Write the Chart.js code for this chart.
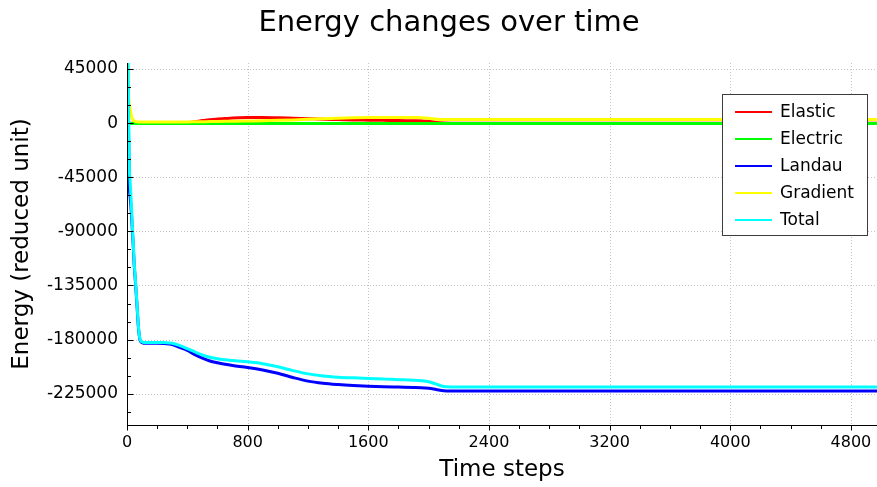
<!DOCTYPE html>
<html><head><meta charset="utf-8">
<script src="https://cdn.jsdelivr.net/npm/chart.js@4/dist/chart.umd.min.js"></script>
<style>html,body{margin:0;padding:0;background:#fff;overflow:hidden}#wrap{width:877px;height:487px;position:relative}</style>
</head><body><div id="wrap"><canvas id="c" width="877" height="487"></canvas></div>
<script>
const chartTitle = 'Energy changes over time';
const xTitle = 'Time steps';
const yTitle = 'Energy (reduced unit)';
const seriesNames = ['Elastic', 'Electric', 'Landau', 'Gradient', 'Total'];
const seriesColors = ['#ff0000', '#00ff00', '#0000ff', '#ffff00', '#00ffff'];
const xTickValues = [0, 800, 1600, 2400, 3200, 4000, 4800];
const yTickValues = [45000, 0, -45000, -90000, -135000, -180000, -225000];
const xMinorStep = 200;
const yMinorStep = 15000;

const timeSteps = [0, 5, 10, 15, 20, 25, 30, 36, 42, 47, 55, 62, 68, 73, 78, 84, 90, 98, 106, 116,
  126, 150, 200, 250, 300, 350, 400, 450, 500, 550, 600, 650, 700, 800, 900, 1000, 1100, 1200, 1300, 1400,
  1500, 1600, 1700, 1800, 1900, 1950, 2000, 2050, 2100, 2150, 2200, 2400, 2800, 3200, 3600, 4000, 4400, 4800, 5000];

const elastic = [0, 0, 0, 0, 0, 0, 0, 0, 0, 0, 0, 0, 0, 0, 0, 0, 0, 0, 0, 0,
  100, 100, 100, 100, 150, 200, 400, 1200, 2100, 2900, 3400, 3800, 4200, 4600, 4700, 4500, 4100, 3700, 3300, 3000,
  2700, 2500, 2300, 2100, 2000, 1900, 1600, 600, 100, 0, 0, 0, 0, 0, 0, 0, 0, 0, 0];

const electric = [-300, -300, -300, -300, -300, -300, -300, -300, -300, -300, -300, -300, -300, -300, -300, -300, -300, -300, -300, -300,
  -300, -300, -300, -300, -300, -300, -300, -300, -300, -300, -300, -300, -300, -300, -300, -300, -300, -300, -300, -300,
  -300, -300, -300, -300, -300, -300, -300, -300, -300, -300, -300, -300, -300, -300, -300, -300, -300, -300, -300];

const landau = [20000, 10000, -5000, -51000, -60000, -67600, -76500, -90000, -103500, -116300, -130500, -143200, -155000, -165200, -172800, -179000, -181500, -182400, -182800, -183000,
  -183100, -183100, -183100, -183300, -184000, -186500, -189000, -192500, -195400, -197800, -199300, -200500, -201500, -203200, -205300, -208000, -211500, -214500, -216300, -217400,
  -218200, -218800, -219200, -219500, -219800, -220000, -220500, -221500, -222500, -222700, -222700, -222700, -222700, -222700, -222700, -222700, -222700, -222700, -222700];

const gradient = [130000, 70000, 25000, 16000, 13000, 9000, 5500, 3500, 2500, 2000, 1500, 1200, 1100, 1000, 1000, 1000, 1000, 1000, 1000, 1000,
  1000, 1000, 1000, 1000, 1000, 1000, 1000, 1100, 1200, 1300, 1400, 1500, 1600, 1800, 2000, 2300, 2700, 3200, 3700, 4100,
  4400, 4600, 4700, 4700, 4600, 4500, 4100, 3300, 3000, 3000, 3000, 3000, 3000, 3000, 3000, 3000, 3000, 3000, 3000];

const total = [150000, 80000, 20000, -35000, -47000, -58600, -71000, -86500, -101000, -114300, -129000, -142000, -154000, -164300, -172000, -178200, -180800, -181800, -182200, -182400,
  -182400, -182400, -182400, -182500, -183000, -185000, -187500, -190200, -192800, -194700, -196000, -196800, -197400, -198500, -200000, -202600, -205800, -208500, -210200, -211200,
  -211800, -212300, -212800, -213300, -213800, -214200, -215000, -217000, -219000, -219300, -219300, -219300, -219300, -219300, -219300, -219300, -219300, -219300, -219300];

const seriesValues = [elastic, electric, landau, gradient, total];

const FONT = 'DejaVu Sans';

const datasets = seriesNames.map((name, i) => ({
  label: name,
  data: timeSteps.map((t, j) => ({ x: t, y: seriesValues[i][j] })),
  borderColor: seriesColors[i],
  backgroundColor: seriesColors[i],
  borderWidth: 3,
  pointRadius: 0,
  fill: false,
  cubicInterpolationMode: 'monotone',
  order: seriesNames.length - 1 - i
}));

const decorPlugin = {
  id: 'decor',
  beforeDatasetsDraw(chart) {
    const { ctx, chartArea: a, scales: { x, y } } = chart;
    ctx.save();
    ctx.strokeStyle = '#c4c4c4';
    ctx.lineWidth = 1;
    ctx.setLineDash([1, 2]);
    yTickValues.forEach(v => {
      const py = Math.round(y.getPixelForValue(v)) + 0.5;
      ctx.beginPath(); ctx.moveTo(a.left, py); ctx.lineTo(a.right, py); ctx.stroke();
    });
    xTickValues.forEach(v => {
      if (v === 0) return;
      const px = Math.round(x.getPixelForValue(v)) + 0.5;
      ctx.beginPath(); ctx.moveTo(px, a.top); ctx.lineTo(px, a.bottom); ctx.stroke();
    });
    ctx.restore();
  },
  afterDatasetsDraw(chart) {
    const { ctx, chartArea: a, scales: { x, y } } = chart;
    ctx.save();
    ctx.strokeStyle = '#000';
    ctx.lineWidth = 1;
    ctx.setLineDash([]);
    const ax = Math.round(a.left) + 0.5;
    const ay = Math.round(a.bottom) + 0.5;
    ctx.beginPath(); ctx.moveTo(ax, a.top); ctx.lineTo(ax, a.bottom + 1); ctx.stroke();
    ctx.beginPath(); ctx.moveTo(a.left, ay); ctx.lineTo(a.right, ay); ctx.stroke();
    for (let v = 45000; v >= y.min; v -= yMinorStep) {
      const py = Math.round(y.getPixelForValue(v)) + 0.5;
      const major = yTickValues.includes(v);
      ctx.beginPath(); ctx.moveTo(ax, py); ctx.lineTo(ax + (major ? 6 : 3.5), py); ctx.stroke();
    }
    for (let v = 0; v <= x.max; v += xMinorStep) {
      const px = Math.round(x.getPixelForValue(v)) + 0.5;
      const major = xTickValues.includes(v);
      ctx.beginPath(); ctx.moveTo(px, ay); ctx.lineTo(px, ay + (major ? 5 : 3.5)); ctx.stroke();
    }
    ctx.restore();

    ctx.save();
    const lx = 722.5, ly = 94.5, lw = 145, lh = 141;
    ctx.fillStyle = '#fff';
    ctx.fillRect(lx, ly, lw, lh);
    ctx.strokeStyle = '#3c3c3c';
    ctx.lineWidth = 1;
    ctx.strokeRect(lx, ly, lw, lh);
    ctx.font = '17px "' + FONT + '"';
    ctx.textBaseline = 'middle';
    ctx.textAlign = 'left';
    chart.data.datasets.forEach((ds, i) => {
      const ey = 112 + i * 27;
      ctx.strokeStyle = ds.borderColor;
      ctx.lineWidth = 2;
      ctx.beginPath(); ctx.moveTo(735, ey); ctx.lineTo(772, ey); ctx.stroke();
      ctx.fillStyle = '#000';
      ctx.fillText(ds.label, 780, ey + 1);
    });
    ctx.restore();
  },
  afterDraw(chart) {
    const { ctx } = chart;
    ctx.save();
    ctx.fillStyle = '#000';
    ctx.font = '29px "' + FONT + '"';
    ctx.textAlign = 'center';
    ctx.textBaseline = 'middle';
    ctx.fillText(chartTitle, 449, 23);
    ctx.restore();
  }
};

new Chart(document.getElementById('c'), {
  type: 'line',
  data: { datasets },
  options: {
    responsive: false,
    animation: false,
    devicePixelRatio: 1,
    layout: { padding: { top: 63, left: 0, right: 0, bottom: 0 } },
    plugins: { legend: { display: false }, title: { display: false }, tooltip: { enabled: false } },
    scales: {
      x: {
        type: 'linear', min: 0, max: 4973,
        grid: { display: false, drawTicks: false },
        border: { display: false },
        afterBuildTicks: s => { s.ticks = xTickValues.map(v => ({ value: v })); },
        afterFit: s => { s.height = 62; s.paddingLeft = 0; s.paddingRight = 0; },
        ticks: { font: { family: FONT, size: 16 }, color: '#000', padding: 8, maxRotation: 0, autoSkip: false, callback: v => String(v) },
        title: { display: true, text: xTitle, font: { family: FONT, size: 23 }, color: '#000', padding: { top: 0, bottom: 3 } }
      },
      y: {
        type: 'linear', min: -251000, max: 50000,
        grid: { display: false, drawTicks: false },
        border: { display: false },
        afterBuildTicks: s => { s.ticks = yTickValues.map(v => ({ value: v })); },
        afterFit: s => { s.width = 127; s.paddingTop = 0; s.paddingBottom = 0; },
        ticks: { font: { family: FONT, size: 17 }, color: '#000', padding: 9, autoSkip: false, callback: v => String(v) },
        title: { display: true, text: yTitle, font: { family: FONT, size: 23 }, color: '#000', padding: { top: 8, bottom: 0 } }
      }
    }
  },
  plugins: [decorPlugin]
});
</script>
</body></html>
